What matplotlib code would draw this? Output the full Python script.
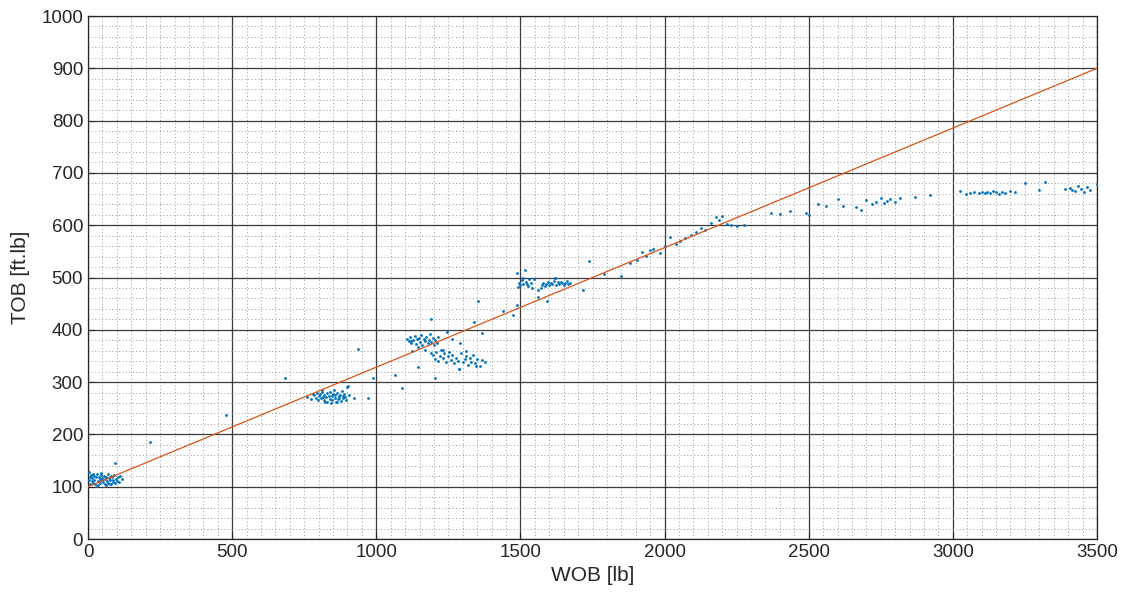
import numpy as np
import matplotlib.pyplot as plt
from matplotlib.ticker import MultipleLocator

plt.rcParams['font.family'] = ['Liberation Sans', 'DejaVu Sans']

# near-zero WOB cluster
wob_a = [2, 4, 6, 8, 10, 12, 14, 16, 18, 20, 22, 25, 28, 30, 33, 36, 38, 40, 43, 46,
         48, 50, 53, 56, 58, 60, 63, 66, 68, 70, 72, 75, 78, 80, 83, 86, 88, 90, 93, 96,
         100, 104, 108, 112, 118, 30, 45, 62, 76, 95, 216, 480, 683]
tob_a = [112, 128, 105, 118, 122, 110, 116, 125, 108, 120, 113, 106, 118, 124, 111, 104, 119, 115, 108, 123,
         112, 117, 109, 121, 106, 114, 119, 110, 124, 107, 116, 112, 120, 105, 118, 109, 113, 122, 108, 115,
         111, 118, 109, 120, 114, 102, 126, 103, 106, 146, 185, 238, 307]

# ~800 lb cluster
wob_b = [760, 772, 780, 785, 790, 795, 798, 800, 805, 808, 812, 815, 818, 820, 825, 828, 830, 835, 838, 840,
         845, 848, 850, 855, 858, 860, 865, 868, 870, 875, 878, 880, 885, 888, 890, 895, 900, 905, 810, 822,
         842, 852, 862, 872, 886, 903, 924, 938, 970, 987]
tob_b = [272, 268, 278, 275, 270, 280, 266, 274, 277, 269, 282, 272, 265, 276, 271, 279, 262, 274, 268, 281,
         273, 266, 277, 270, 275, 262, 279, 268, 273, 276, 264, 283, 270, 277, 272, 266, 290, 275, 285, 262,
         260, 284, 262, 270, 274, 293, 269, 363, 269, 307]

# ~1200 lb cluster
wob_c = [1107, 1112, 1118, 1122, 1128, 1133, 1138, 1142, 1147, 1152, 1156, 1160, 1165, 1170, 1174, 1178,
         1182, 1186, 1190, 1195, 1200, 1205, 1210, 1214, 1125, 1145, 1168, 1188, 1119, 1189, 1244, 1262,
         1290, 1088, 1065, 1146, 1204,
         1197, 1203, 1208, 1214, 1220, 1225, 1230, 1236, 1242, 1248, 1253, 1258, 1264, 1270, 1276, 1282,
         1288, 1294, 1300, 1306, 1312, 1318, 1324, 1330, 1336, 1342, 1350, 1358, 1366, 1377, 1287, 1232,
         1310, 1345, 1352, 1339, 1366]
tob_c = [383, 378, 386, 375, 380, 388, 373, 382, 385, 377, 390, 370, 383, 379, 387, 374,
         381, 392, 376, 384, 371, 380, 375, 386, 360, 368, 362, 355, 379, 420, 396, 382,
         375, 289, 314, 328, 307,
         352, 345, 358, 340, 350, 362, 346, 355, 338, 349, 357, 343, 352, 336, 347, 341,
         325, 355, 339, 344, 350, 333, 347, 338, 352, 336, 345, 330, 342, 338, 325, 361,
         360, 330, 455, 414, 394]

# ~1500-1700 lb cluster
wob_d = [1489, 1495, 1500, 1505, 1510, 1515, 1520, 1525, 1530, 1535, 1540, 1547, 1493, 1508, 1522,
         1562, 1570, 1575, 1580, 1585, 1590, 1595, 1600, 1605, 1610, 1615, 1620, 1625, 1630, 1635,
         1640, 1645, 1650, 1655, 1660, 1665, 1672, 1562, 1593, 1620, 1487, 1438, 1473, 1718, 1739]
tob_d = [508, 490, 485, 495, 488, 514, 492, 483, 497, 489, 479, 497, 482, 500, 487,
         476, 480, 486, 490, 484, 488, 492, 485, 490, 487, 493, 500, 486, 491, 488,
         492, 489, 485, 490, 493, 488, 490, 463, 455, 500, 447, 436, 428, 477, 531]

# transition 1800-2300 lb
wob_e = [1790, 1850, 1880, 1905, 1920, 1935, 1950, 1960, 1985, 2000, 2020, 2040, 2055, 2070,
         2090, 2110, 2125, 2140, 2160, 2180, 2190, 2200, 2215, 2230, 2250, 2275]
tob_e = [507, 502, 527, 533, 548, 542, 553, 555, 547, 560, 578, 565, 570, 575,
         582, 587, 595, 590, 605, 616, 610, 618, 603, 600, 598, 600]

# high WOB plateau
wob_f = [2370, 2400, 2435, 2490, 2500, 2532, 2560, 2600, 2620, 2664, 2680, 2699, 2720, 2735, 2750,
         2760, 2770, 2782, 2800, 2817, 2870, 2920, 3025, 3045, 3060, 3075, 3090, 3100, 3110, 3120,
         3130, 3140, 3150, 3160, 3170, 3180, 3200, 3215, 3250, 3300, 3320, 3390, 3405, 3415, 3425,
         3435, 3445, 3455, 3465, 3475, 3500]
tob_f = [623, 621, 627, 623, 620, 640, 637, 650, 636, 635, 630, 648, 640, 645, 652,
         642, 646, 650, 644, 652, 654, 658, 665, 660, 662, 663, 661, 664, 662, 663,
         661, 665, 663, 660, 664, 662, 666, 663, 680, 667, 683, 670, 672, 668, 665,
         675, 670, 664, 673, 668, 678]

# fitted line
fit_wob = [0, 3500]
fit_tob = [100, 900]

wob = np.concatenate([wob_a, wob_b, wob_c, wob_d, wob_e, wob_f])
tob = np.concatenate([tob_a, tob_b, tob_c, tob_d, tob_e, tob_f])

fig = plt.figure(figsize=(11.26, 6.04), dpi=100)
ax = fig.add_axes([0.0782, 0.1076, 0.8960, 0.8659])

ax.plot(wob, tob, '.', color='#0072BD', markersize=2.0, zorder=3)
ax.plot(fit_wob, fit_tob, '-', color='#D95319', linewidth=0.9, zorder=4)

ax.set_xlim(0, 3500)
ax.set_ylim(0, 1000)
ax.xaxis.set_major_locator(MultipleLocator(500))
ax.xaxis.set_minor_locator(MultipleLocator(50))
ax.yaxis.set_major_locator(MultipleLocator(100))
ax.yaxis.set_minor_locator(MultipleLocator(20))

ax.grid(which='major', color='#1a1a1a', linestyle='-', linewidth=0.9, alpha=0.85)
ax.grid(which='minor', color='#9a9a9a', linestyle=(0, (1, 2.5)), linewidth=0.7)
ax.set_axisbelow(True)

ax.tick_params(which='major', direction='in', length=5, labelsize=13.5, colors='#262626')
ax.tick_params(which='minor', length=0)
for s in ax.spines.values():
    s.set_color('#262626')
    s.set_linewidth(0.9)

ax.set_xlabel('WOB [lb]', fontsize=15, color='#262626', labelpad=4)
ax.set_ylabel('TOB [ft.lb]', fontsize=15, color='#262626', labelpad=8)

fig.savefig('out.png', dpi=100)
